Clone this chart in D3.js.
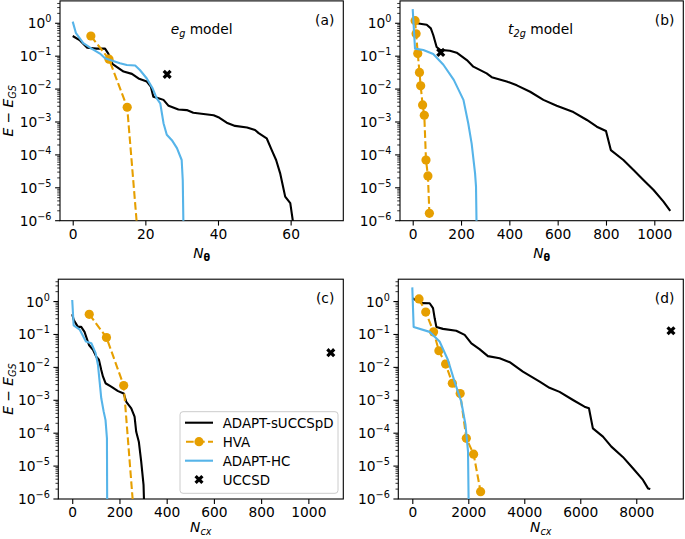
<!DOCTYPE html>
<html><head><meta charset="utf-8">
<script src="https://cdn.jsdelivr.net/npm/d3@7"></script>
<style>
body{margin:0;background:#fff;}
svg{display:block;font-family:"DejaVu Sans",sans-serif;}
</style></head>
<body>
<svg id="chart" width="685" height="539"></svg>
<script>
// ---------------- data ----------------
const seriesNames = ["ADAPT-sUCCSpD", "HVA", "ADAPT-HC", "UCCSD"];
const xTicksA = [0, 20, 40, 60];
const xTicksB = [0, 200, 400, 600, 800, 1000];
const xTicksC = [0, 200, 400, 600, 800, 1000];
const xTicksD = [0, 2000, 4000, 6000, 8000];
const yTickExps = [0, -1, -2, -3, -4, -5, -6];

// (a) e_g model vs N_theta
const aBlack = [[0,0.41],[2,0.30],[4,0.18],[6.6,0.17],[8.9,0.17],[9.8,0.12],[11,0.057],[14,0.034],[16.3,0.029],[18.1,0.021],[20.4,0.017],[21.5,0.012],[22.2,0.0059],[23.6,0.0053],[25,0.0047],[26.4,0.0031],[29.1,0.0024],[31.4,0.0023],[33.2,0.0019],[38.8,0.0016],[40.1,0.0014],[42.4,0.00095],[44.7,0.00076],[48,0.00068],[50.2,0.00057],[51.2,0.00046],[53.4,0.00032],[54.8,0.00014],[56,7e-5],[57.1,2.8e-5],[57.9,1.1e-5],[58.5,5.4e-6],[59.9,3.4e-6],[61,5e-7]];
const aBlue = [[0,1.12],[0.9,0.5],[2.9,0.25],[5.2,0.17],[7.5,0.12],[8.9,0.087],[10.3,0.077],[13,0.061],[14.9,0.054],[17.2,0.052],[18.5,0.038],[20.4,0.021],[22,0.0105],[23.1,0.0053],[24.1,0.0037],[25,0.00092],[25.9,0.00041],[27.3,0.00028],[28.7,0.00016],[30,7e-5],[30.3,1.7e-5],[30.6,1e-7]];
const aHVA = [[5,0.41],[10,0.081],[15,0.0028],[20,6e-10]];
const aUCCSD = [[26,0.028]];

// (b) t2g model vs N_theta
const bBlack = [[0,1.2],[19,1.0],[37,0.95],[58,0.9],[75,0.7],[85,0.44],[99,0.19],[113,0.155],[154,0.147],[182,0.128],[224,0.076],[251,0.048],[306,0.030],[327,0.023],[389,0.017],[431,0.013],[486,0.0083],[541,0.0047],[596,0.0031],[665,0.0020],[721,0.00115],[762,0.00072],[800,0.00053],[820,0.00014],[872,7e-5],[914,3.5e-5],[956,1.7e-5],[997,8.6e-6],[1038,3.8e-6],[1066,2.0e-6]];
const bBlue = [[0,2.7],[9.5,0.17],[44,0.155],[85,0.117],[127,0.055],[170,0.019],[210,0.0047],[230,0.0009],[244,0.00022],[258,2.8e-5],[262,1.1e-5],[266,1e-7]];
const bHVAx = [10,14,21,28,33,41,48,55,63,69];
const hvaT2gE = [1.2,0.48,0.12,0.032,0.0126,0.0033,0.0016,7e-5,2.3e-5,1.67e-6];
const bUCCSD = [[116,0.13]];

// (c) e_g model vs N_cx
const cBlack = [[0,0.41],[6,0.28],[24,0.17],[38,0.17],[52,0.12],[71,0.048],[88,0.034],[102,0.021],[113,0.017],[123,0.0083],[130,0.0053],[141,0.0033],[165,0.0026],[194,0.0019],[218,0.0016],[229,0.0009],[250,0.00057],[264,0.00032],[271,0.00011],[282,5.5e-5],[292,1.4e-5],[302,2.7e-6],[305,5e-7]];
const cBlue = [[0,1.12],[6,0.19],[32,0.14],[58,0.061],[81,0.054],[99,0.027],[109,0.0118],[116,0.0037],[123,0.00115],[133,0.00046],[141,0.00025],[147,7e-5],[148.5,1e-7]];
const cHVA = [[72,0.41],[145,0.081],[218,0.0028],[291,6e-10]];
const cUCCSD = [[1095,0.028]];

// (d) t2g model vs N_cx
const dBlack = [[0,1.26],[340,0.9],[620,0.89],[740,0.63],[800,0.31],[860,0.17],[1095,0.148],[1570,0.13],[1870,0.097],[2110,0.054],[2400,0.036],[2700,0.022],[3120,0.019],[3480,0.0144],[3950,0.0074],[4550,0.0037],[4900,0.0024],[5260,0.0018],[5740,0.00102],[6150,0.00064],[6310,0.00057],[6450,0.00014],[6810,7.9e-5],[7110,3.9e-5],[7520,1.9e-5],[7880,8.6e-6],[8240,3.8e-6],[8420,2.1e-6],[8500,2.0e-6]];
const dBlue = [[0,2.7],[48,0.17],[620,0.12],[975,0.061],[1270,0.017],[1510,0.0037],[1750,0.0009],[1900,0.00018],[1990,2.8e-5],[2025,1e-7]];
const dHVAx = [240,480,760,950,1190,1430,1710,1930,2190,2440];
const dUCCSD = [[9240,0.13]];

// ---------------- layout / style ----------------
const COLORS = {black:"#000000", hva:"#E69F00", hc:"#56B4E9"};
const yDomain = [1e-6, Math.pow(10, 0.68)];
const panels = [
  {id:"a", box:[60,343.3,0.9,220.7], xdom:[-3.5,74.5], ticks:xTicksA, black:aBlack, hva:aHVA, hc:aBlue, ucc:aUCCSD,
   tag:"(a)", model:["e","g"], xlab:"theta", xlabOff:37.5, ylab:true},
  {id:"b", box:[400,683.3,0.9,220.7], xdom:[-52.6,1120], ticks:xTicksB, black:bBlack, hva:bHVAx.map((x,i)=>[x,hvaT2gE[i]]), hc:bBlue, ucc:bUCCSD,
   tag:"(b)", model:["t","2g"], xlab:"theta", xlabOff:37.5, ylab:false},
  {id:"c", box:[58.3,343.3,279.2,499], xdom:[-59,1148], ticks:xTicksC, black:cBlack, hva:cHVA, hc:cBlue, ucc:cUCCSD,
   tag:"(c)", model:null, xlab:"cx", xlabOff:33, ylab:true, legend:true},
  {id:"d", box:[398.3,683.3,279.2,499], xdom:[-500,9680], ticks:xTicksD, black:dBlack, hva:dHVAx.map((x,i)=>[x,hvaT2gE[i]]), hc:dBlue, ucc:dUCCSD,
   tag:"(d)", model:null, xlab:"cx", xlabOff:33, ylab:false}
];

const svg = d3.select("#chart");
const FS = 13.8;
const supExp = e => (e < 0 ? "\u2212" + (-e) : "" + e);

panels.forEach(p => {
  const [L,R,T,B] = p.box;
  const x = d3.scaleLinear().domain(p.xdom).range([L,R]);
  const y = d3.scaleLog().domain(yDomain).range([B,T]);
  const g = svg.append("g");

  const clipId = "clip-" + p.id;
  svg.append("clipPath").attr("id", clipId).append("rect")
    .attr("x", L).attr("y", T).attr("width", R-L).attr("height", B-T);

  // x axis
  const xAxis = d3.axisBottom(x).tickValues(p.ticks).tickSize(4.9).tickPadding(3.5).tickFormat(d3.format("d"));
  const xa = g.append("g").attr("transform", `translate(0,${B})`).call(xAxis);
  xa.select(".domain").remove();
  xa.selectAll("line").attr("stroke","#000").attr("stroke-width",1.1);
  xa.selectAll("text").attr("font-size",FS).attr("font-family","DejaVu Sans").attr("fill","#000");

  // y axis major ticks (custom labels)
  const ya = g.append("g");
  const majors = yTickExps.map(e => Math.pow(10,e));
  ya.selectAll("line.maj").data(majors).join("line")
    .attr("x1", L-4.9).attr("x2", L).attr("y1", d=>y(d)).attr("y2", d=>y(d))
    .attr("stroke","#000").attr("stroke-width",1.1);
  const minors = [];
  for (let e=-6; e<=0; e++) for (let k=2; k<=9; k++) { const v=k*Math.pow(10,e); if (v<=yDomain[1]) minors.push(v); }
  ya.selectAll("line.min").data(minors).join("line")
    .attr("x1", L-2.8).attr("x2", L).attr("y1", d=>y(d)).attr("y2", d=>y(d))
    .attr("stroke","#000").attr("stroke-width",0.8);
  const lab = ya.selectAll("text").data(yTickExps).join("text")
    .attr("x", L-8.5).attr("y", d=>y(Math.pow(10,d))+5)
    .attr("text-anchor","end").attr("font-size",FS).attr("fill","#000");
  lab.append("tspan").text("10");
  lab.append("tspan").attr("font-size",FS*0.7).attr("dy",-6).text(d=>supExp(d));

  // lines
  const line = d3.line().x(d=>x(d[0])).y(d=>y(d[1]));
  const data = svg.append("g").attr("clip-path",`url(#${clipId})`);
  data.append("path").datum(p.black).attr("d",line).attr("fill","none")
    .attr("stroke",COLORS.black).attr("stroke-width",2.1).attr("stroke-linejoin","round");
  data.append("path").datum(p.hva).attr("d",line).attr("fill","none")
    .attr("stroke",COLORS.hva).attr("stroke-width",2.1).attr("stroke-dasharray","7.7,3.3");
  data.selectAll("circle.hva").data(p.hva).join("circle")
    .attr("cx",d=>x(d[0])).attr("cy",d=>y(d[1])).attr("r",4.6).attr("fill",COLORS.hva);
  data.append("path").datum(p.hc).attr("d",line).attr("fill","none")
    .attr("stroke",COLORS.hc).attr("stroke-width",2.1).attr("stroke-linejoin","round");
  data.selectAll("path.ucc").data(p.ucc).join("path")
    .attr("d", d3.symbol().type(d3.symbolCross).size(52))
    .attr("transform", d=>`translate(${x(d[0])},${y(d[1])}) rotate(45)`)
    .attr("fill","#000");

  // frame
  g.append("rect").attr("x",L).attr("y",T).attr("width",R-L).attr("height",B-T)
    .attr("fill","none").attr("stroke","#000").attr("stroke-width",1.1);

  // tag
  svg.append("text").attr("x",R-9).attr("y",T+24).attr("text-anchor","end")
    .attr("font-size",FS).text(p.tag);

  // model label
  if (p.model) {
    const t = svg.append("text").attr("x",(L+R)/2 - (p.id==="a"?0:1)).attr("y",T+33)
      .attr("text-anchor","middle").attr("font-size",FS);
    t.append("tspan").attr("font-style","italic").text(p.model[0]);
    t.append("tspan").attr("font-style","italic").attr("font-size",FS*0.7).attr("dy",3).text(p.model[1]);
    t.append("tspan").attr("dy",-3).text(" model");
  }

  // x label
  const xl = svg.append("text").attr("x",(L+R)/2).attr("y",B+p.xlabOff).attr("text-anchor","middle").attr("font-size",FS);
  xl.append("tspan").attr("font-style","italic").text("N");
  if (p.xlab === "theta") {
    xl.append("tspan").attr("font-weight","bold").attr("font-size",FS*0.7).attr("dy",3).text("\u03B8");
  } else {
    xl.append("tspan").attr("font-style","italic").attr("font-size",FS*0.7).attr("dy",3).text("cx");
  }

  // y label
  if (p.ylab) {
    const yl = svg.append("text").attr("transform",`translate(13,${(T+B)/2}) rotate(-90)`)
      .attr("text-anchor","middle").attr("font-size",FS);
    yl.append("tspan").attr("font-style","italic").text("E");
    yl.append("tspan").text(" \u2212 ");
    yl.append("tspan").attr("font-style","italic").text("E");
    yl.append("tspan").attr("font-style","italic").attr("font-size",FS*0.7).attr("dy",3).text("GS");
  }

  // legend
  if (p.legend) {
    const lg = svg.append("g");
    lg.append("rect").attr("x",180).attr("y",411.7).attr("width",158).attr("height",81.6)
      .attr("rx",3).attr("fill","#fff").attr("fill-opacity",0.8).attr("stroke","#cccccc").attr("stroke-width",1);
    const rows = [422.7, 441.7, 460.7, 479.5];
    const lx0 = 185, lx1 = 213, tx = 222.7;
    lg.append("line").attr("x1",lx0).attr("x2",lx1).attr("y1",rows[0]).attr("y2",rows[0]).attr("stroke",COLORS.black).attr("stroke-width",2.1);
    lg.append("line").attr("x1",lx0).attr("x2",lx1).attr("y1",rows[1]).attr("y2",rows[1]).attr("stroke",COLORS.hva).attr("stroke-width",2.1).attr("stroke-dasharray","7.7,3.3").attr("stroke-dashoffset",-1);
    lg.append("circle").attr("cx",(lx0+lx1)/2).attr("cy",rows[1]).attr("r",4.6).attr("fill",COLORS.hva);
    lg.append("line").attr("x1",lx0).attr("x2",lx1).attr("y1",rows[2]).attr("y2",rows[2]).attr("stroke",COLORS.hc).attr("stroke-width",2.1);
    lg.append("path").attr("d",d3.symbol().type(d3.symbolCross).size(52)).attr("transform",`translate(${(lx0+lx1)/2},${rows[3]}) rotate(45)`).attr("fill","#000");
    lg.selectAll("text").data(seriesNames).join("text")
      .attr("x",tx).attr("y",(d,i)=>rows[i]+5).attr("font-size",FS*0.97).text(d=>d);
  }
});
</script>
</body></html>
